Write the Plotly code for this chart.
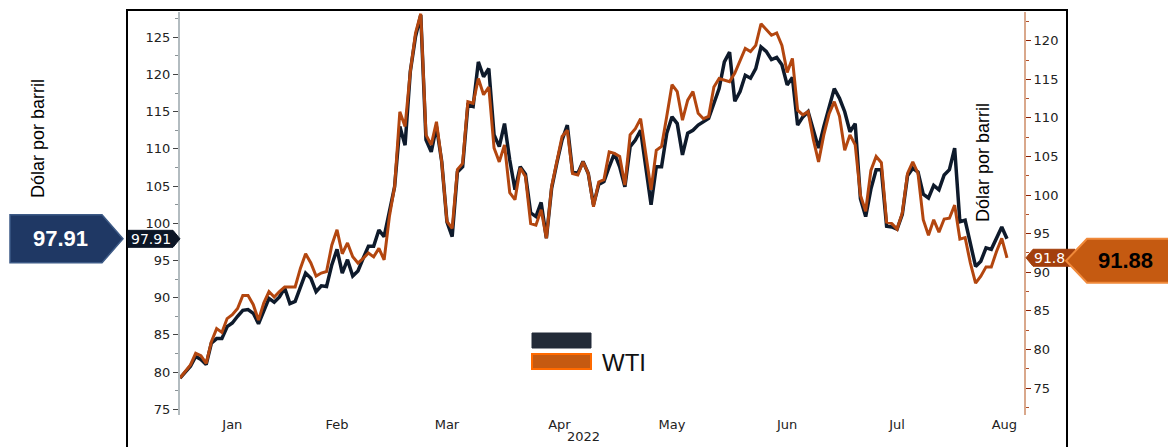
import pandas as pd
import plotly.graph_objects as go

# ---------------- data ----------------
# trading days (weekdays, ICE closed on Good Friday)
DATES = pd.bdate_range("2022-01-03", "2022-08-12", freq="C", holidays=["2022-04-15"])

BRENT = [
    79.2, 80.0, 80.8, 82.1, 81.7, 81.0, 83.9, 84.5, 84.5, 86.1,
    86.6, 87.5, 88.3, 88.4, 87.9, 86.5, 88.3, 89.9, 89.4, 90.1,
    91.3, 89.2, 89.5, 91.3, 93.3, 92.6, 90.8, 91.6, 91.5, 94.4,
    96.5, 93.3, 95.1, 92.9, 93.6, 95.3, 96.9, 96.9, 99.1, 98.2,
    101.3, 104.9, 113.0, 110.5, 120.4, 125.1, 128.0, 111.2, 109.6, 113.0,
    108.3, 100.2, 98.2, 106.9, 107.6, 115.9, 115.7, 121.7, 119.7, 120.8,
    111.9, 110.3, 113.4, 108.5, 104.5, 107.6, 106.6, 101.4, 100.9, 102.8,
    98.0, 104.7, 108.1, 111.2, 113.2, 106.9, 106.7, 108.3, 106.7, 102.5,
    105.2, 105.6, 107.6, 109.4, 107.6, 104.9, 110.3, 111.2, 112.5, 107.6,
    102.5, 107.6, 107.6, 112.1, 114.3, 113.4, 109.2, 112.1, 112.5, 113.2,
    113.7, 114.1, 116.1, 118.1, 121.7, 123.0, 116.4, 117.7, 119.9, 119.5,
    120.8, 123.7, 123.1, 122.0, 122.3, 121.3, 118.6, 119.6, 113.2, 114.3,
    115.0, 112.5, 110.1, 113.0, 115.6, 118.1, 116.8, 115.0, 112.3, 113.4,
    103.3, 100.9, 104.6, 107.2, 107.2, 99.6, 99.5, 99.2, 101.2, 106.4,
    107.4, 106.9, 103.9, 103.4, 105.1, 104.5, 106.5, 107.2, 110.1, 100.2,
    100.4, 97.4, 94.2, 94.9, 96.7, 96.5, 98.0, 99.5, 97.91,
]

WTI = [
    76.3, 77.1, 78.0, 79.5, 79.2, 78.2, 81.0, 82.7, 82.2, 84.0,
    84.5, 85.3, 87.0, 87.0, 85.8, 83.8, 86.0, 87.5, 86.8, 87.5,
    88.1, 88.1, 88.1, 90.5, 92.4, 91.2, 89.5, 89.9, 90.1, 93.5,
    95.5, 92.4, 93.8, 92.0, 91.2, 91.8, 92.5, 92.0, 93.1, 91.6,
    97.2, 101.1, 110.8, 108.9, 116.0, 121.0, 123.5, 107.8, 106.5, 109.5,
    104.3, 96.6, 95.7, 103.3, 104.1, 112.1, 111.9, 115.1, 113.0, 114.0,
    106.1, 104.3, 106.5, 100.3, 99.4, 103.5, 102.4, 96.3, 96.1, 98.1,
    94.4, 101.1, 104.5, 107.6, 108.4, 102.8, 102.6, 104.3, 102.8, 98.5,
    101.7, 102.0, 105.6, 105.4, 105.0, 101.3, 107.8, 108.6, 109.9, 105.4,
    100.7, 105.8, 106.3, 110.2, 114.3, 113.4, 109.7, 112.3, 113.4, 110.6,
    109.9, 110.2, 114.0, 115.1, 114.9, 114.7, 115.8, 117.3, 119.0, 118.6,
    119.4, 122.2, 121.4, 120.7, 121.0, 119.4, 115.9, 117.7, 111.0, 110.4,
    110.8, 107.2, 104.3, 107.8, 110.5, 112.1, 110.2, 105.8, 107.8, 106.5,
    100.0, 97.9, 103.2, 105.0, 104.2, 96.5, 96.3, 95.6, 97.7, 102.8,
    104.3, 102.8, 96.8, 94.8, 96.8, 95.2, 96.9, 97.0, 98.7, 94.3,
    94.5, 91.2, 88.6, 89.5, 90.7, 90.7, 92.7, 94.4, 91.88,
]

MONTH_TICKS = ["2022-01-17", "2022-02-14", "2022-03-15", "2022-04-13 12:00",
               "2022-05-16", "2022-06-15", "2022-07-14", "2022-08-11 12:00"]
MONTH_LABELS = ["Jan", "Feb", "Mar", "Apr", "May", "Jun", "Jul", "Aug"]
YEAR_LABEL = "2022"
AXIS_TITLE = "Dólar por barril"
LEGEND_LABEL = "WTI"

LEFT_RANGE = [74.23, 128.40]
RIGHT_RANGE = [71.51, 123.72]
X_RANGE = ["2022-01-03", "2022-08-17 06:00"]

assert len(DATES) == len(BRENT) == len(WTI)

# ---------------- styling ----------------
DARK = "#0e1a2b"
BROWN = "#b3460f"
W, H = 1168, 447
ML, MR, MT, MB = 180, 144, 12, 32
PW, PH = W - ML - MR, H - MT - MB


def px(x):
    return (x - ML) / PW


def py(y):
    return (H - MB - y) / PH


def vpaper(v, rng):
    return (v - rng[0]) / (rng[1] - rng[0])


def pent(x_back, x_body, x_tip, yc, half):
    return (f"M {x_back},{yc - half} L {x_body},{yc - half} L {x_tip},{yc} "
            f"L {x_body},{yc + half} L {x_back},{yc + half} Z")


fig = go.Figure()
fig.add_trace(go.Scatter(x=DATES, y=WTI, name="WTI", yaxis="y2", mode="lines",
                         line=dict(color=BROWN, width=3)))
fig.add_trace(go.Scatter(x=DATES, y=BRENT, name="Brent", yaxis="y", mode="lines",
                         line=dict(color=DARK, width=3.5)))

tickfont = dict(family="DejaVu Sans", size=13, color="#222222")

fig.update_layout(
    width=W, height=H, autosize=False,
    margin=dict(l=ML, r=MR, t=MT, b=MB),
    paper_bgcolor="white", plot_bgcolor="rgba(0,0,0,0)",
    showlegend=False,
    xaxis=dict(type="date", range=X_RANGE,
               rangebreaks=[dict(bounds=["sat", "mon"]), dict(values=["2022-04-15"])],
               tickmode="array", tickvals=MONTH_TICKS, ticktext=MONTH_LABELS,
               showgrid=False, zeroline=False, showline=False, ticks="",
               tickfont=tickfont),
    yaxis=dict(range=LEFT_RANGE, tick0=75, dtick=5, side="left",
               showgrid=False, zeroline=False,
               showline=True, linecolor="#b3bcc0", linewidth=2,
               ticks="outside", ticklen=5, tickwidth=1, tickcolor="#444444",
               minor=dict(dtick=2.5, ticks="outside", ticklen=3, tickcolor="#8a9296", showgrid=False),
               tickfont=tickfont),
    yaxis2=dict(range=RIGHT_RANGE, tick0=75, dtick=5, side="right", overlaying="y",
                showgrid=False, zeroline=False,
                showline=True, linecolor="#d9a88c", linewidth=2,
                ticks="outside", ticklen=5, tickwidth=1, tickcolor="#8b1e00",
                minor=dict(dtick=2.5, ticks="outside", ticklen=3, tickcolor="#b0502a", showgrid=False),
                tickfont=tickfont),
)

shapes = []
# outer frame (left, top, right)
shapes.append(dict(type="rect", xref="paper", yref="paper",
                   x0=px(127), x1=px(1067), y0=py(470), y1=py(10),
                   line=dict(color="black", width=2), fillcolor="rgba(0,0,0,0)", layer="below"))

yb = vpaper(BRENT[-1], LEFT_RANGE)
yw = vpaper(WTI[-1], RIGHT_RANGE)

# left big value box
shapes.append(dict(type="path", xref="paper", yref="paper",
                   path=pent(px(10), px(102), px(123), yb, 24 / PH),
                   fillcolor="#1f3864", line=dict(color="#3d5a86", width=1.5), layer="above"))
# left small flag on axis
shapes.append(dict(type="path", xref="paper", yref="paper",
                   path=pent(px(128), px(173), px(180), yb, 8.5 / PH),
                   fillcolor="#0c1626", line=dict(color="#0c1626", width=1), layer="above"))
# right small flag on axis
shapes.append(dict(type="path", xref="paper", yref="paper",
                   path=pent(px(1075), px(1033), px(1026), yw, 8.5 / PH),
                   fillcolor="#a33f0c", line=dict(color="#a33f0c", width=1), layer="above"))
# right big value box
ywb = yw - 3 / PH
shapes.append(dict(type="path", xref="paper", yref="paper",
                   path=pent(px(1185), px(1087), px(1066), ywb, 22 / PH),
                   fillcolor="#c55a11", line=dict(color="#f0893a", width=2), layer="above"))
# legend swatches
shapes.append(dict(type="rect", xref="paper", yref="paper",
                   x0=px(532), x1=px(591), y0=py(348), y1=py(333),
                   fillcolor="#232b38", line=dict(color="#232b38", width=1), layer="above"))
shapes.append(dict(type="rect", xref="paper", yref="paper",
                   x0=px(532), x1=px(591), y0=py(369), y1=py(354),
                   fillcolor="#c55a11", line=dict(color="#ff6a00", width=2), layer="above"))

annotations = [
    dict(xref="paper", yref="paper", x=px(38), y=py(139), text=AXIS_TITLE, textangle=-90,
         showarrow=False, font=dict(family="Liberation Sans", size=18, color="black"),
         xanchor="center", yanchor="middle"),
    dict(xref="paper", yref="paper", x=px(983), y=py(163), text=AXIS_TITLE, textangle=-90,
         showarrow=False, font=dict(family="Liberation Sans", size=18, color="black"),
         xanchor="center", yanchor="middle"),
    dict(xref="paper", yref="paper", x=px(60), y=yb, text=f"<b>{BRENT[-1]:.2f}</b>",
         showarrow=False, font=dict(family="Liberation Sans", size=22, color="white"),
         xanchor="center", yanchor="middle"),
    dict(xref="paper", yref="paper", x=px(151), y=yb, text=f"{BRENT[-1]:.2f}",
         showarrow=False, font=dict(family="DejaVu Sans", size=14, color="white"),
         xanchor="center", yanchor="middle"),
    dict(xref="paper", yref="paper", x=px(1032), y=yw, text=f"{WTI[-1]:.2f}"[:4],
         showarrow=False, font=dict(family="DejaVu Sans", size=14, color="white"),
         xanchor="left", yanchor="middle"),
    dict(xref="paper", yref="paper", x=px(1125), y=ywb, text=f"<b>{WTI[-1]:.2f}</b>",
         showarrow=False, font=dict(family="Liberation Sans", size=22, color="black"),
         xanchor="center", yanchor="middle"),
    dict(xref="paper", yref="paper", x=px(600), y=py(362), text=LEGEND_LABEL,
         showarrow=False, font=dict(family="Liberation Sans", size=24, color="#111111"),
         xanchor="left", yanchor="middle"),
    dict(xref="paper", yref="paper", x=px(583), y=py(446), text=YEAR_LABEL,
         showarrow=False, font=dict(family="DejaVu Sans", size=13, color="#222222"),
         xanchor="center", yanchor="bottom"),
]

fig.update_layout(shapes=shapes, annotations=annotations)

fig.write_html("out.html", config={"displayModeBar": False},
               post_script="document.body.style.margin='0';")
